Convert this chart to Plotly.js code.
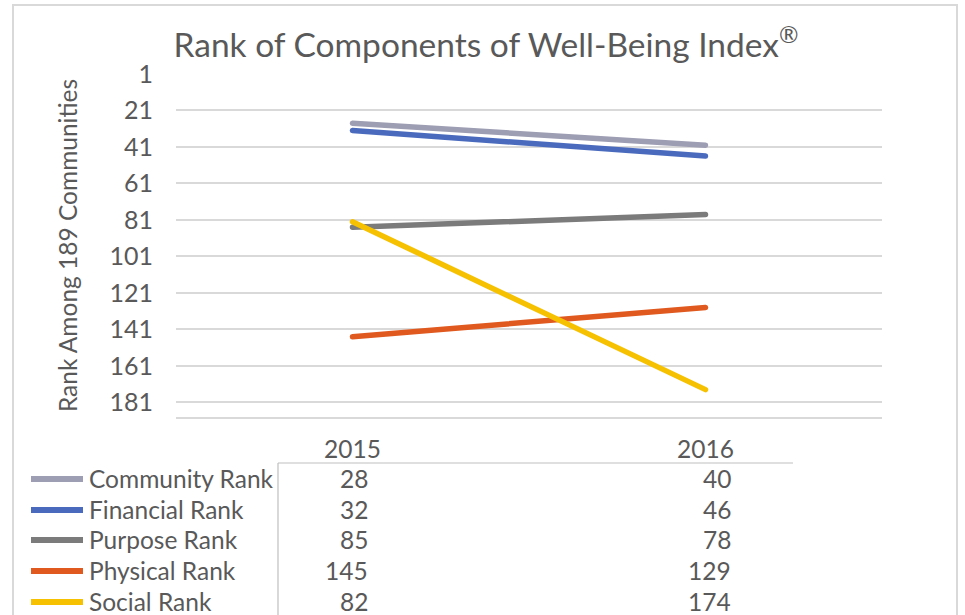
<!DOCTYPE html>
<html>
<head>
<meta charset="utf-8">
<script src="https://cdn.plot.ly/plotly-3.0.1.min.js"></script>
<style>
html,body{margin:0;padding:0;background:#fff;}
#chart{width:965px;height:615px;}
#chart .scatterlayer path.js-line{stroke-linecap:round;}
</style>
</head>
<body>
<div id="chart"></div>
<script>
var years = ["2015", "2016"];
var seriesNames = ["Community Rank", "Financial Rank", "Purpose Rank", "Physical Rank", "Social Rank"];
var community = [28, 40];
var financial = [32, 46];
var purpose = [85, 78];
var physical = [145, 129];
var social = [82, 174];
var seriesValues = [community, financial, purpose, physical, social];
var colors = ["#9d9db3", "#4a6bbd", "#7b7b7b", "#e0591f", "#f6c100"];
var yTickVals = [1, 21, 41, 61, 81, 101, 121, 141, 161, 181];

var W = 965, H = 615;
var M = {l: 176, r: 83, t: 74, b: 198};
var pw = W - M.l - M.r, ph = H - M.t - M.b;
function px(x) { return (x - M.l) / pw; }
function py(y) { return (H - M.b - y) / ph; }

var FONT = "Lato, 'Open Sans', sans-serif";
var TXT = "#595959";

var traces = seriesNames.map(function (n, i) {
  return {
    type: "scatter", mode: "lines", name: n,
    x: years, y: seriesValues[i],
    line: {color: colors[i], width: 5.5},
    showlegend: false, hoverinfo: "skip"
  };
});

var shapes = [], annotations = [];
shapes.push({type: "rect", xref: "paper", yref: "paper",
  x0: px(13), x1: px(957), y0: py(5), y1: py(640),
  line: {color: "#d9d9d9", width: 2}, layer: "below"});
shapes.push({type: "line", xref: "paper", yref: "paper",
  x0: px(278), x1: px(278), y0: py(463), y1: py(620),
  line: {color: "#bfbfbf", width: 1.2}});
shapes.push({type: "line", xref: "paper", yref: "paper",
  x0: px(278), x1: px(793), y0: py(463), y1: py(463),
  line: {color: "#bfbfbf", width: 1.2}});

var rowY = [478, 509, 539, 570, 601];
var colShift = [17.5, 27.5];
seriesNames.forEach(function (n, i) {
  shapes.push({type: "line", xref: "paper", yref: "paper",
    x0: px(31), x1: px(83), y0: py(rowY[i] + 1), y1: py(rowY[i] + 1),
    line: {color: colors[i], width: 6}});
  annotations.push({xref: "paper", yref: "paper", x: px(87), y: py(rowY[i]),
    xanchor: "left", yanchor: "middle", showarrow: false, text: n,
    font: {family: FONT, size: 24.5, color: TXT}});
  years.forEach(function (yr, j) {
    annotations.push({xref: "x", yref: "paper", x: j, y: py(rowY[i]),
      xshift: colShift[j], xanchor: "right", yanchor: "middle", showarrow: false,
      text: String(seriesValues[i][j]),
      font: {family: FONT, size: 24.5, color: TXT}});
  });
});

var layout = {
  width: W, height: H,
  margin: M,
  paper_bgcolor: "#ffffff", plot_bgcolor: "#ffffff",
  title: {text: "Rank of Components of Well-Being Index<sup>®</sup>",
    xref: "container", x: 486 / W, xanchor: "center",
    yref: "container", y: 1 - 45 / H, yanchor: "middle",
    font: {family: FONT, size: 33.5, color: TXT}},
  xaxis: {type: "category", range: [-0.5, 1.5], showgrid: false, zeroline: false,
    showline: true, linecolor: "#d9d9d9", linewidth: 2,
    ticks: "", tickfont: {family: FONT, size: 24.5, color: TXT},
    ticklabelstandoff: 10, fixedrange: true},
  yaxis: {range: [189, 1], tickmode: "array", tickvals: yTickVals,
    showgrid: true, gridcolor: "#d9d9d9", gridwidth: 2, zeroline: false,
    showline: false, ticks: "", ticklabelstandoff: 22,
    tickfont: {family: FONT, size: 25, color: TXT},
    title: {text: "Rank Among 189 Communities", standoff: 24,
      font: {family: FONT, size: 24.5, color: TXT}}, fixedrange: true},
  shapes: shapes,
  annotations: annotations,
  showlegend: false
};

Plotly.newPlot("chart", traces, layout, {displayModeBar: false, staticPlot: true});
</script>
</body>
</html>
